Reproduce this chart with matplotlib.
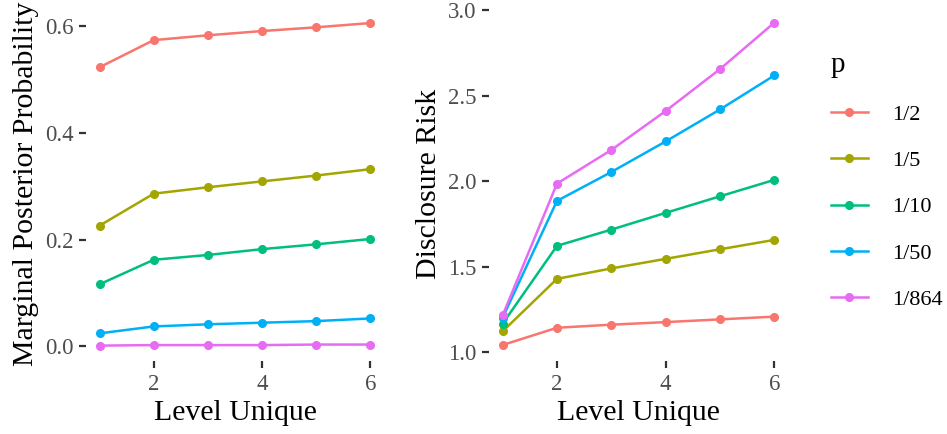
import matplotlib
matplotlib.use("Agg")
import matplotlib.pyplot as plt

plt.rcParams['font.family'] = ['Liberation Serif', 'DejaVu Serif']

level = [1, 2, 3, 4, 5, 6]
p_labels = ['1/2', '1/5', '1/10', '1/50', '1/864']
colors = ['#F8766D', '#A3A500', '#00BF7D', '#00B0F6', '#E76BF3']

# marginal posterior probability, one list per p
post = [
    [0.523, 0.574, 0.583, 0.591, 0.598, 0.606],
    [0.226, 0.286, 0.298, 0.309, 0.320, 0.332],
    [0.116, 0.162, 0.171, 0.182, 0.191, 0.201],
    [0.024, 0.037, 0.041, 0.044, 0.047, 0.052],
    [0.001, 0.002, 0.002, 0.002, 0.003, 0.003],
]
# disclosure risk, one list per p
risk = [
    [1.043, 1.144, 1.162, 1.177, 1.193, 1.209],
    [1.123, 1.430, 1.491, 1.547, 1.603, 1.658],
    [1.168, 1.623, 1.718, 1.816, 1.913, 2.009],
    [1.203, 1.886, 2.055, 2.234, 2.421, 2.620],
    [1.216, 1.987, 2.184, 2.412, 2.657, 2.929],
]

fig = plt.figure(figsize=(9.47, 4.34), dpi=100)
ax1 = fig.add_axes([0.0908, 0.168, 0.3147, 0.817])
ax2 = fig.add_axes([0.5164, 0.168, 0.3157, 0.817])

def style(ax, ylabel, yticks, yfmt):
    for s in ax.spines.values():
        s.set_visible(False)
    ax.set_xticks([2, 4, 6])
    ax.set_yticks(yticks)
    ax.set_yticklabels([yfmt % v for v in yticks])
    ax.tick_params(length=5, width=1.6, color='#333333', labelcolor='#4D4D4D',
                   labelsize=16.5, pad=4)
    ax.set_xlabel('Level Unique', fontsize=21.5, color='black', labelpad=4)
    ax.set_ylabel(ylabel, fontsize=21.5, color='black', labelpad=4)
    ax.set_xlim(0.75, 6.25)

handles = []
for vals, c in zip(post, colors):
    ax1.plot(level, vals, color=c, lw=1.8, marker='o', ms=5.5)
for vals, c, lab in zip(risk, colors, p_labels):
    h, = ax2.plot(level, vals, color=c, lw=1.8, marker='o', ms=5.5, label=lab)
    handles.append(h)

style(ax1, 'Marginal Posterior Probability', [0.0, 0.2, 0.4, 0.6], '%.1f')
style(ax2, 'Disclosure Risk', [1.0, 1.5, 2.0, 2.5, 3.0], '%.1f')
ax1.set_ylim(-0.028, 0.637)
ax2.set_ylim(0.949, 3.023)

leg = fig.legend(handles=handles, labels=p_labels, title='p', loc='upper left',
                 bbox_to_anchor=(0.868, 0.9), frameon=False, fontsize=16,
                 title_fontsize=21, handlelength=1.65, handletextpad=1.1,
                 labelspacing=1.16, alignment='left', borderaxespad=0)

fig.savefig('out.png', dpi=100)
